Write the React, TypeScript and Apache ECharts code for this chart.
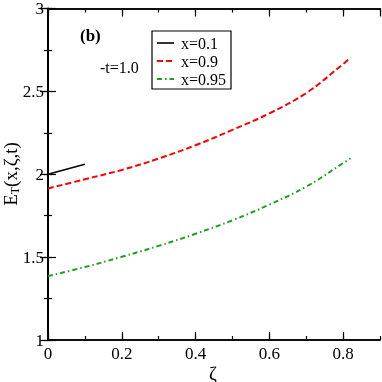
import React, { useEffect, useRef } from "react";
import * as echarts from "echarts";

const zetaBlack = [0, 0.1];
const valBlack = [2.0, 2.06];

const zetaCurve = [0, 0.1, 0.2, 0.3, 0.4, 0.5, 0.6, 0.7, 0.8, 0.82];
const valRed = [1.914, 1.97, 2.026, 2.095, 2.175, 2.268, 2.367, 2.49, 2.665, 2.705];
const valGreen = [1.386, 1.44, 1.502, 1.568, 1.641, 1.722, 1.817, 1.925, 2.067, 2.096];

const seriesNames = ["x=0.1", "x=0.9", "x=0.95"];
const xTicks = [0, 0.2, 0.4, 0.6, 0.8];
const yTicks = [1, 1.5, 2, 2.5, 3];

const FONT = "Liberation Serif";
const RED = "#ff0000";
const GREEN = "#1f9f1f";

function pairs(xs: number[], ys: number[]) {
  return xs.map((x, i) => [x, ys[i]]);
}

export default function App() {
  const ref = useRef<HTMLDivElement>(null);
  useEffect(() => {
    if (!ref.current) return;
    const chart = echarts.init(ref.current, undefined, { renderer: "svg" });
    const axisLine = { show: true, lineStyle: { color: "#000", width: 1.5 } };
    const tickMajor = { show: true, inside: true, length: 8, lineStyle: { color: "#000", width: 1.2 } };
    const tickMinor = { show: true, inside: true, length: 4, lineStyle: { color: "#000", width: 1.2 } };
    const labelStyle = { color: "#000", fontFamily: FONT, fontSize: 17 };
    const xBase = { type: "value", min: 0, max: 0.9, splitLine: { show: false }, axisLine };
    const yBase = { type: "value", min: 1, max: 3, splitLine: { show: false }, axisLine };
    const noLabel = { axisLabel: { show: false } };
    const legendY = [43, 61, 79];
    const legendColors = ["#000", RED, GREEN];
    const legendDash: any[] = [null, [6, 3], [5, 3, 1.5, 3]];
    chart.setOption({
      animation: false,
      grid: { left: 48, right: 2, top: 7, bottom: 42 },
      xAxis: [
        {
          ...xBase,
          position: "bottom",
          interval: 0.2,
          axisTick: tickMajor,
          axisLabel: {
            ...labelStyle,
            margin: 5,
            showMaxLabel: false,
            formatter: (v: number) => (xTicks.some((t) => Math.abs(t - v) < 1e-9) ? String(+v.toFixed(1)) : ""),
          },
        },
        { ...xBase, position: "bottom", interval: 0.1, axisTick: tickMinor, ...noLabel },
        { ...xBase, position: "top", interval: 0.2, axisTick: tickMajor, ...noLabel },
        { ...xBase, position: "top", interval: 0.1, axisTick: tickMinor, ...noLabel },
      ],
      yAxis: [
        {
          ...yBase,
          position: "left",
          interval: 0.5,
          axisTick: tickMajor,
          axisLabel: {
            ...labelStyle,
            margin: 4,
            formatter: (v: number) => (yTicks.some((t) => Math.abs(t - v) < 1e-9) ? String(v) : ""),
          },
        },
        { ...yBase, position: "left", interval: 0.25, axisTick: tickMinor, ...noLabel },
        { ...yBase, position: "right", interval: 0.5, axisTick: tickMajor, ...noLabel },
        { ...yBase, position: "right", interval: 0.25, axisTick: tickMinor, ...noLabel },
      ],
      series: [
        {
          name: seriesNames[0],
          type: "line",
          data: pairs(zetaBlack, valBlack),
          symbol: "none",
          lineStyle: { color: "#000", width: 1.6, type: "solid" },
        },
        {
          name: seriesNames[1],
          type: "line",
          data: pairs(zetaCurve, valRed),
          symbol: "none",
          smooth: 0.4,
          lineStyle: { color: RED, width: 2, type: [6, 3] },
        },
        {
          name: seriesNames[2],
          type: "line",
          data: pairs(zetaCurve, valGreen),
          symbol: "none",
          smooth: 0.4,
          lineStyle: { color: GREEN, width: 2, type: [5, 3, 1.5, 3] },
        },
      ],
      graphic: [
        {
          type: "rect",
          shape: { x: 152, y: 31, width: 79, height: 58 },
          style: { fill: "#fff", stroke: "#000", lineWidth: 1.2 },
          z: 10,
        },
        ...seriesNames.flatMap((name, i) => [
          {
            type: "line",
            shape: { x1: 157, y1: legendY[i], x2: 174, y2: legendY[i] },
            style: { stroke: legendColors[i], lineWidth: i === 0 ? 1.6 : 2, lineDash: legendDash[i] },
            z: 11,
          },
          {
            type: "text",
            x: 181,
            y: legendY[i],
            style: { text: name, fontFamily: FONT, fontSize: 16, fill: "#000", verticalAlign: "middle", align: "left" },
            z: 11,
          },
        ]),
        {
          type: "text",
          x: 80,
          y: 35,
          style: { text: "(b)", fontFamily: FONT, fontSize: 17, fontWeight: "bold", fill: "#000", verticalAlign: "middle" },
        },
        {
          type: "text",
          x: 100,
          y: 67,
          style: { text: "-t=1.0", fontFamily: FONT, fontSize: 16, fill: "#000", verticalAlign: "middle" },
        },
        {
          type: "text",
          x: 213,
          y: 373,
          style: { text: "ζ", fontFamily: FONT, fontSize: 19, fill: "#000", align: "center", verticalAlign: "middle" },
        },
        {
          type: "text",
          x: 10,
          y: 174,
          rotation: Math.PI / 2,
          style: {
            text: "{a|E}{b|T}{a|(x,ζ,t)}",
            align: "center",
            verticalAlign: "middle",
            rich: {
              a: { fontFamily: FONT, fontSize: 19, fill: "#000", lineHeight: 22, verticalAlign: "middle" },
              b: { fontFamily: FONT, fontSize: 12, fill: "#000", lineHeight: 22, verticalAlign: "bottom" },
            },
          },
        },
      ],
    });
    return () => chart.dispose();
  }, []);
  return <div ref={ref} style={{ position: "fixed", left: 0, top: 0, width: 382, height: 382 }} />;
}
